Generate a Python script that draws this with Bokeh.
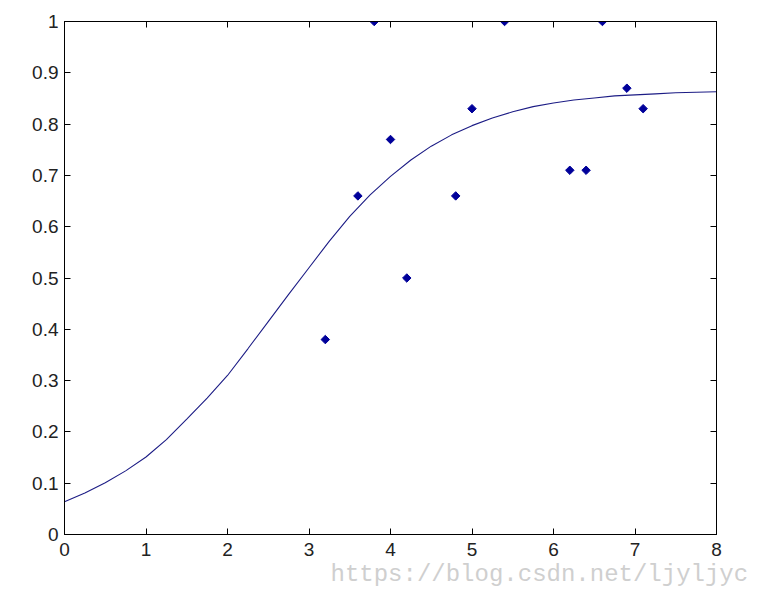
import math
from bokeh.plotting import figure
from bokeh.models import LinearAxis, FixedTicker, Range1d, Title
from bokeh.embed import file_html
from bokeh.resources import INLINE

# observed data points
x_pts = [3.2, 3.6, 3.8, 4.0, 4.2, 4.8, 5.0, 5.4, 6.2, 6.4, 6.6, 6.9, 7.1]
y_pts = [0.38, 0.66, 1.0, 0.77, 0.50, 0.66, 0.83, 1.0, 0.71, 0.71, 1.0, 0.87, 0.83]

# fitted curve
curve_x = [0, 0.25, 0.5, 0.75, 1, 1.25, 1.5, 1.75, 2, 2.25, 2.5, 2.75, 3, 3.25,
           3.5, 3.75, 4, 4.25, 4.5, 4.75, 5, 5.25, 5.5, 5.75, 6, 6.25, 6.5,
           6.75, 7, 7.25, 7.5, 7.75, 8]
curve_y = [0.064, 0.081, 0.101, 0.124, 0.151, 0.185, 0.225, 0.266, 0.310,
           0.362, 0.415, 0.468, 0.520, 0.572, 0.620, 0.662, 0.698, 0.730,
           0.757, 0.779, 0.797, 0.812, 0.824, 0.834, 0.841, 0.847, 0.851,
           0.855, 0.857, 0.859, 0.861, 0.862, 0.863]

x_ticks = [0, 1, 2, 3, 4, 5, 6, 7, 8]
y_ticks = [0, 0.1, 0.2, 0.3, 0.4, 0.5, 0.6, 0.7, 0.8, 0.9, 1.0]
y_tick_labels = ["0", "0.1", "0.2", "0.3", "0.4", "0.5", "0.6", "0.7", "0.8", "0.9", "1"]
watermark = "https://blog.csdn.net/ljyljyc"

p = figure(width=751, height=593, output_backend="svg", toolbar_location=None,
           x_range=Range1d(0, 8), y_range=Range1d(0, 1),
           min_border_left=64, min_border_right=35, min_border_top=21,
           min_border_bottom=59, x_axis_location=None, y_axis_location=None)
p.grid.visible = False
p.outline_line_color = "black"
p.outline_line_width = 1
p.background_fill_color = "white"
p.border_fill_color = "white"

FONT = "Liberation Sans"

def style_axis(ax, ticks, labels=None, show=True, standoff=6):
    ax.ticker = FixedTicker(ticks=ticks)
    ax.major_tick_in = 6
    ax.major_tick_out = 0
    ax.minor_tick_line_color = None
    ax.axis_line_color = "black"
    ax.major_tick_line_color = "black"
    ax.major_label_text_font = FONT
    ax.major_label_text_color = "#222222"
    if labels is not None:
        ax.major_label_overrides = {t: l for t, l in zip(ticks, labels)}
    if show:
        ax.major_label_text_font_size = "19px"
        ax.major_label_standoff = standoff
    else:
        ax.major_label_text_font_size = "0px"
        ax.major_label_text_color = None
        ax.major_label_standoff = 0

bottom = LinearAxis(); style_axis(bottom, x_ticks, [str(t) for t in x_ticks], standoff=8)
left = LinearAxis(); style_axis(left, y_ticks, y_tick_labels)
top = LinearAxis(); style_axis(top, x_ticks, show=False)
right = LinearAxis(); style_axis(right, y_ticks, show=False)
p.add_layout(bottom, "below")
p.add_layout(left, "left")
p.add_layout(top, "above")
p.add_layout(right, "right")

p.line(curve_x, curve_y, line_color="#1c1c85", line_width=1.1)
p.scatter(x_pts, y_pts, marker="square", angle=math.pi / 4, size=6,
          fill_color="#00009a", line_color="#00009a")

p.add_layout(Title(text=watermark, align="left", offset=266, standoff=0,
                   text_font="Liberation Mono", text_font_size="24px",
                   text_font_style="normal", text_color="#cfcfcf"), "below")

open("out.html", "w").write(file_html(p, INLINE))
